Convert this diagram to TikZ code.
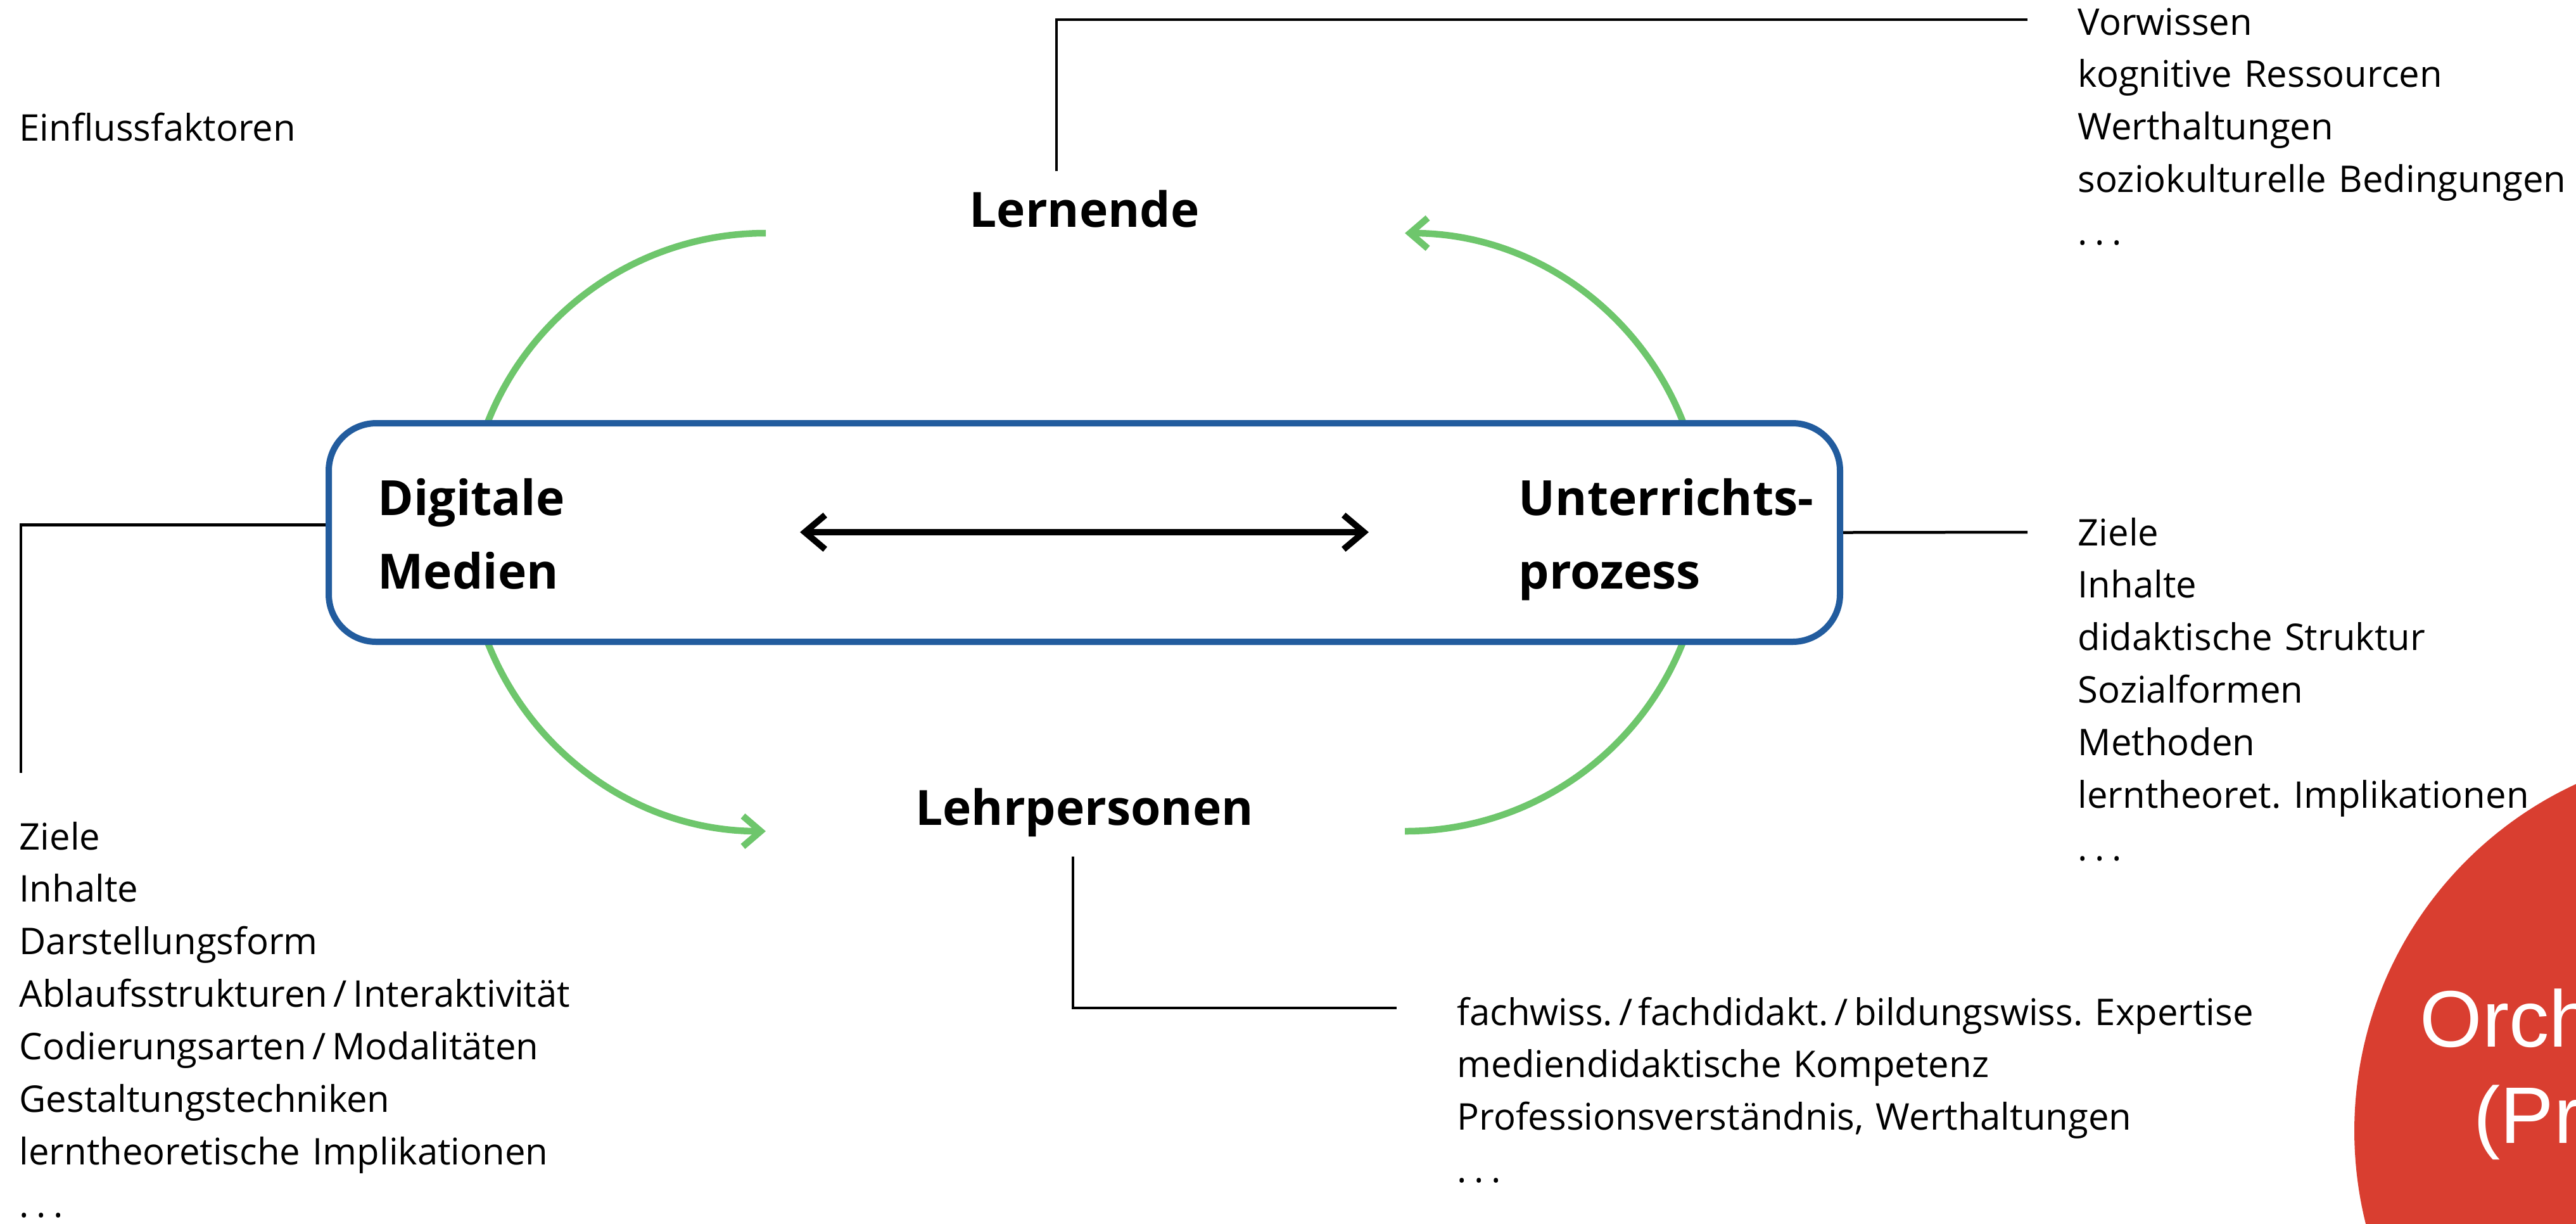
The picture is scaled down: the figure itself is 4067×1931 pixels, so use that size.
\documentclass[tikz,border=0pt]{standalone}
\usepackage{fontspec}
\setmainfont{Open Sans}
\newfontfamily\orchfont{Liberation Sans}
\usetikzlibrary{arrows.meta}

\definecolor{boxblue}{RGB}{34,92,158}
\definecolor{loopgreen}{RGB}{110,198,108}
\definecolor{orchred}{RGB}{217,62,48}

\newcommand{\etc}{.\kern0.2em.\kern0.2em.}

\tikzset{
  lead/.style={line width=0.45mm},
  greenarc/.style={draw=loopgreen, line width=1.05mm, -{Straight Barb[length=2.8mm,width=4.8mm]}},
  head/.style={font=\fontsize{21.8}{33.2}\selectfont\bfseries, inner sep=0},
  headpair/.style={head, text width=70mm, align=left, anchor=base west},
  factlist/.style={font=\fontsize{16.5}{23.6}\selectfont, inner sep=0, text width=200mm, align=left, anchor=base west},
  orchtext/.style={font=\orchfont\fontsize{36}{43}\selectfont, text=white, inner sep=0, anchor=base west},
}

\begin{document}
\frenchspacing
\begin{tikzpicture}[x=0.1mm, y=-0.1mm]
    \useasboundingbox (0,0) rectangle (4067,1931);
    \clip (0,0) rectangle (4067,1931);

    % green loops, partly hidden by the box
    \draw[greenarc] (1209,368) arc[start angle=270, end angle=90, radius=472];
    \draw[greenarc] (2218,1312) arc[start angle=90, end angle=-90, radius=472];

    \node[draw=boxblue, line width=1mm, fill=white, rounded corners=7.5mm,
        minimum width=238.6mm, minimum height=34.5mm, inner sep=0] (frame) at (1712,840.5) {};

    \node[headpair] (medien) at (596,813) {Digitale\\Medien};
    \node[headpair] (prozess) at (2397,813) {Unterrichts-\\prozess};
    \node[head, anchor=base] (lernende) at (1712,358) {Lernende};
    \node[head, anchor=base] (lehrende) at (1712,1302) {Lehrpersonen};

    \coordinate (al) at (1263,840);
    \coordinate (ar) at (2161,840);
    \draw[line width=1mm, {Straight Barb[length=3.2mm,width=5.4mm]}-{Straight Barb[length=3.2mm,width=5.4mm]}] (al) -- (ar);

    \node[factlist] (einfluss) at (30,222) {Einflussfaktoren};

    \node[factlist] (lernlist) at (3280,55)
        {Vorwissen\\kognitive Ressourcen\\Werthaltungen\\soziokulturelle Bedingungen\\\etc};
    \node[factlist] (prozlist) at (3280,861)
        {Ziele\\Inhalte\\didaktische Struktur\\Sozialformen\\Methoden\\lerntheoret. Implikationen\\\etc};
    \node[factlist] (lehrlist) at (2300,1618)
        {fachwiss.\,/\,fachdidakt.\,/\,bildungswiss. Expertise\\mediendidaktische Kompetenz\\Professionsverständnis, Werthaltungen\\\etc};
    \node[factlist] (medlist) at (30,1341)
        {Ziele\\Inhalte\\Darstellungsform\\Ablaufsstrukturen\,/\,Interaktivität\\Codierungsarten\,/\,Modalitäten\\Gestaltungstechniken\\lerntheoretische Implikationen\\\etc};

    % leader lines
    \coordinate (lt) at (1668,270);
    \coordinate (lr) at (3201,31);
    \draw[lead] (lt) |- (lr);
    \coordinate (pr) at (3201,840);
    \draw[lead] (frame.east) -- (pr);
    \coordinate (ml) at (33,1220);
    \draw[lead] ([yshift=1.2mm]frame.west) -| (ml);
    \coordinate (lb) at (1694,1352);
    \coordinate (lbr) at (2205,1591);
    \draw[lead] (lb) |- (lbr);

    \node[circle, fill=orchred, minimum size=120.6mm, inner sep=0] (orch) at (4320,1785) {};
    \node[orchtext] (orch1) at (3820,1652) {Orch};
    \node[orchtext] (orch2) at (3905,1804) {(Pr};
\end{tikzpicture}
\end{document}
